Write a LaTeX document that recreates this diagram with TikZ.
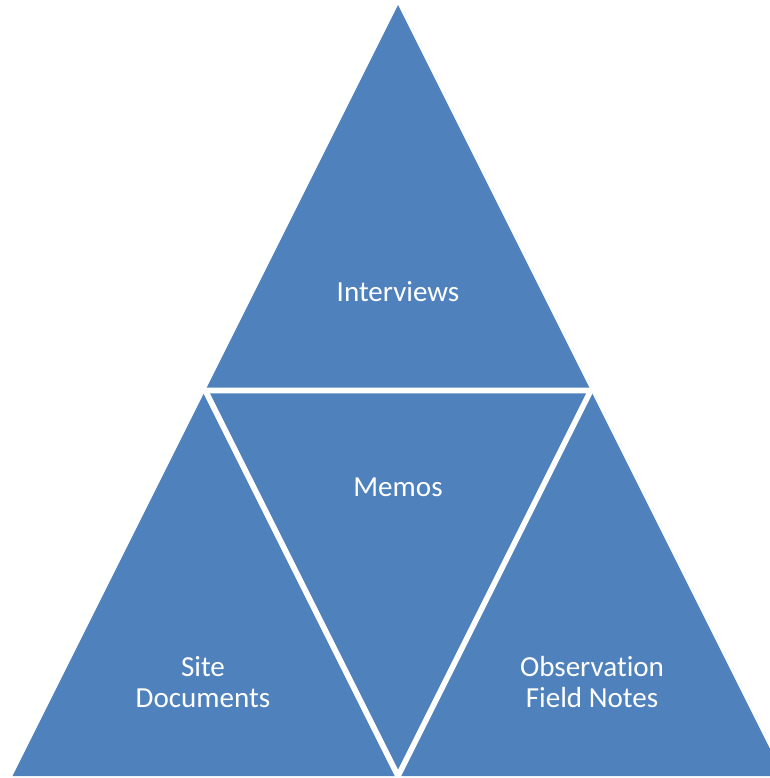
\documentclass[tikz,border=0pt]{standalone}
\usepackage{fontspec}
\setmainfont[RawFeature=-liga]{Carlito}
\usetikzlibrary{calc}
\definecolor{officeblue}{HTML}{4F81BD}
\begin{document}
\begin{tikzpicture}[x=0.75pt,y=-0.75pt,
  segment/.style={fill=officeblue},
  divider/.style={draw=white,line width=4.2pt,line cap=butt},
  lbl/.style={text=white,font=\fontsize{21.8}{23.3}\selectfont,align=center}]
\useasboundingbox (0,0) rectangle (770,778);
\clip (0,0) rectangle (770,778);
\coordinate (A) at (398,5);
\coordinate (B) at (12.5,776);
\coordinate (C) at (783.5,776);
\coordinate (L) at ($(A)!0.5!(B)$);
\coordinate (R) at ($(A)!0.5!(C)$);
\coordinate (M) at ($(B)!0.5!(C)$);
\fill[segment] (A) -- (B) -- (C) -- cycle;
\draw[divider] (L) -- (R) -- (M) -- cycle;
\node[lbl] (interviews) at (398,292) {Interviews};
\node[lbl] (memos) at (398,487) {Memos};
\node[lbl] (site) at (203,682) {Site\\Documents};
\node[lbl] (obs) at (592,682) {Observation\\Field Notes};
\end{tikzpicture}
\end{document}
